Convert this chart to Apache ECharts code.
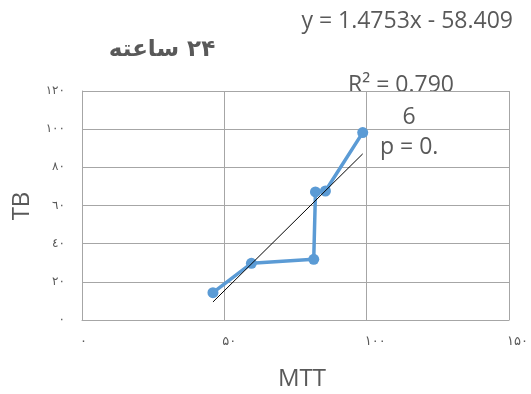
<!DOCTYPE html>
<html>
<head>
<meta charset="utf-8">
<script src="https://cdn.jsdelivr.net/npm/echarts@6/dist/echarts.min.js"></script>
<style>html,body{margin:0;padding:0;background:#fff}#c{width:531px;height:394px}</style>
</head>
<body>
<div id="c"></div>
<script>
// Data
var mttValues = [46.0, 59.5, 81.4, 82.0, 85.5, 98.6];
var tbValues = [14.3, 29.7, 31.8, 67.1, 67.6, 98.2];
var xTickLabels = {0: '۰', 50: '۵۰', 100: '۱۰۰', 150: '۱۵۰'};
var yTickLabels = {0: '۰', 20: '۲۰', 40: '٤۰', 60: '٦۰', 80: '۸۰', 100: '۱۰۰', 120: '۱۲۰'};
var trendSlope = 1.4753;
var trendIntercept = -58.409;
var trendXRange = [46.0, 98.6];
var titleText = '\u200F۲۴ ساعته';
var xAxisTitle = 'MTT';
var yAxisTitle = 'TB';
var eqText = 'y = 1.4753x - 58.409';
var r2Text = 'R² = 0.790';
var r2Cont = '6';
var pText = 'p = 0.';

var points = mttValues.map(function (x, i) { return [x, tbValues[i]]; });
var trendPts = trendXRange.map(function (x) { return [x, trendSlope * x + trendIntercept]; });

var chart = echarts.init(document.getElementById('c'));
var txtColor = '#595959';
var latin = '"Open Sans", "Liberation Sans", sans-serif';
chart.setOption({
  animation: false,
  grid: {left: 82, right: 21, top: 91, bottom: 74, containLabel: false},
  xAxis: {
    type: 'value', min: 0, max: 150, interval: 50,
    axisLine: {show: true, lineStyle: {color: '#a6a6a6', width: 1}},
    axisTick: {show: false},
    splitLine: {show: true, lineStyle: {color: '#a6a6a6', width: 1}},
    axisLabel: {margin: 15, color: txtColor, fontSize: 13, fontFamily: 'DejaVu Sans', align: 'left',
      padding: [0, 0, 0, -2],
      formatter: function (v) { return xTickLabels[v] !== undefined ? xTickLabels[v] : ''; }}
  },
  yAxis: {
    type: 'value', min: 0, max: 120, interval: 20,
    axisLine: {show: true, lineStyle: {color: '#a6a6a6', width: 1}},
    axisTick: {show: false},
    splitLine: {show: true, lineStyle: {color: '#a6a6a6', width: 1}},
    axisLabel: {margin: 17, color: txtColor, fontSize: 12, fontFamily: 'DejaVu Sans',
      formatter: function (v) { return yTickLabels[v] !== undefined ? yTickLabels[v] : ''; }}
  },
  series: [
    {type: 'line', data: points, symbol: 'circle', symbolSize: 11,
      lineStyle: {color: '#5b9bd5', width: 3.5}, itemStyle: {color: '#5b9bd5'}, z: 3},
    {type: 'line', data: trendPts, symbol: 'none',
      lineStyle: {color: '#000', width: 1}, z: 4}
  ],
  graphic: [
    {type: 'text', style: {text: titleText, x: 162, y: 50, align: 'center', verticalAlign: 'middle',
      font: 'bold 23px "DejaVu Sans"', fill: txtColor}},
    {type: 'text', style: {text: eqText, x: 513, y: 21, align: 'right', verticalAlign: 'middle',
      font: '23px ' + latin, fill: txtColor}},
    {type: 'text', style: {text: r2Text, x: 401, y: 85, align: 'center', verticalAlign: 'middle',
      font: '23px ' + latin, fill: txtColor}},
    {type: 'text', style: {text: r2Cont, x: 409, y: 117, align: 'center', verticalAlign: 'middle',
      font: '23px ' + latin, fill: txtColor}},
    {type: 'text', style: {text: pText, x: 380, y: 147, align: 'left', verticalAlign: 'middle',
      font: '23px ' + latin, fill: txtColor}},
    {type: 'text', style: {text: xAxisTitle, x: 302, y: 379, align: 'center', verticalAlign: 'middle',
      font: '24px ' + latin, fill: txtColor}},
    {type: 'text', rotation: Math.PI / 2, x: 22, y: 206, style: {text: yAxisTitle, x: 0, y: 0, align: 'center', verticalAlign: 'middle',
      font: '24px ' + latin, fill: txtColor}}
  ]
});
</script>
</body>
</html>
